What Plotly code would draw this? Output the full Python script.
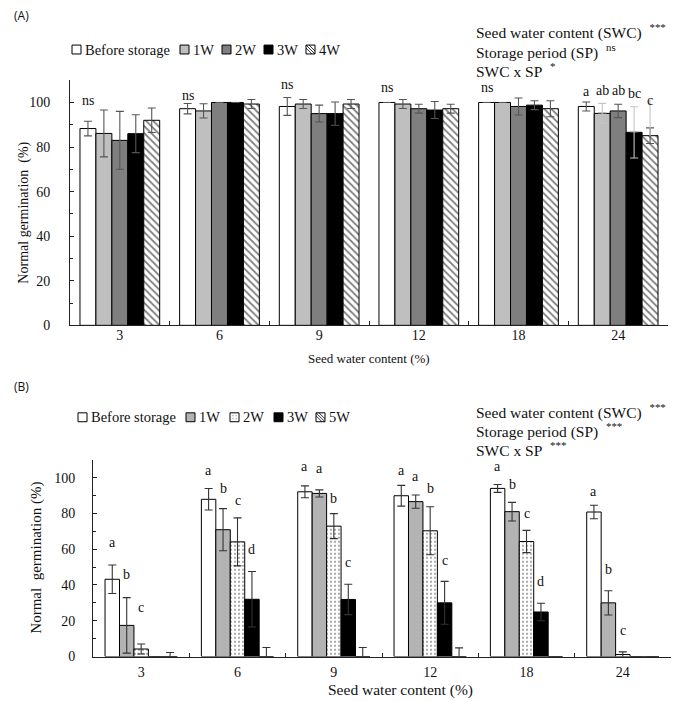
import plotly.graph_objects as go

W, H = 682, 701

# ---------------- data ----------------
categories = ["3", "6", "9", "12", "18", "24"]
y_ticks = [0, 20, 40, 60, 80, 100]

# Panel A
a_names = ["Before storage", "1W", "2W", "3W", "4W"]
a_before = [88.3, 97.2, 98.2, 100.0, 100.0, 98.2]
a_1w = [86.1, 96.2, 99.3, 99.3, 100.0, 95.1]
a_2w = [83.0, 100.0, 95.0, 97.2, 98.2, 96.2]
a_3w = [86.0, 100.0, 95.0, 96.6, 98.8, 86.6]
a_4w = [92.0, 99.3, 99.3, 97.2, 97.2, 85.1]
a_before_err = [3.3, 2.3, 4.0, None, None, 2.0]
a_1w_err = [10.5, 3.2, 2.0, 2.0, None, None]
a_2w_err = [13.0, None, 3.8, 2.0, 3.8, 3.0]
a_3w_err = [8.5, None, 5.2, 3.8, 2.0, None]
a_4w_err = [5.5, 2.0, 2.0, 2.0, 3.6, 3.5]
# light grey error/leader lines at 24 %
a_light_series = [1, 3, 4]
a_light_plus = [4.5, 11.5, 16.0]
a_light_minus = [4.5, 11.5, 0.0]

a_lab_cat = ["3", "6", "9", "12", "18", "24", "24", "24", "24", "24"]
a_lab_series = [0, 0, 0, 0, 0, 0, 1, 2, 3, 4]
a_lab_text = ["ns", "ns", "ns", "ns", "ns", "a", "ab", "ab", "bc", "c"]
a_lab_y = [101, 103, 108, 106.5, 106.5, 104.7, 105.5, 105.5, 104, 100.7]

a_stats = ["Seed water content (SWC)", "Storage period (SP)", "SWC x SP"]
a_stats_sig = ["***", "ns", "*"]

# Panel B
b_names = ["Before storage", "1W", "2W", "3W", "5W"]
b_before = [43.2, 87.9, 92.1, 89.9, 94.0, 80.8]
b_1w = [17.4, 70.9, 91.2, 86.6, 81.0, 30.0]
b_2w = [4.2, 64.1, 72.9, 70.3, 64.3, 1.1]
b_3w = [0.0, 32.0, 31.9, 30.0, 24.9, 0.0]
b_5w = [0.0, 0.0, 0.0, 0.0, 0.0, 0.0]
b_before_err = [8.0, 6.0, 3.3, 5.8, 2.2, 3.8]
b_1w_err = [15.5, 11.8, 2.0, 3.7, 5.2, 6.8]
b_2w_err = [2.8, 13.4, 7.0, 13.4, 6.2, 1.5]
b_3w_err = [None, 15.5, 8.5, 12.0, 4.9, None]
b_5w_err = [2.2, 5.0, 5.0, 4.8, None, None]

b_lab_cat = ["3", "3", "3", "6", "6", "6", "6", "9", "9", "9", "9",
             "12", "12", "12", "12", "18", "18", "18", "18", "24", "24", "24"]
b_lab_series = [0, 1, 2, 0, 1, 2, 3, 0, 1, 2, 3, 0, 1, 2, 3, 0, 1, 2, 3, 0, 1, 2]
b_lab_text = ["a", "b", "c", "a", "b", "c", "d", "a", "a", "b", "c",
              "a", "a", "b", "c", "a", "b", "c", "d", "a", "b", "c"]
b_lab_y = [63.7, 45.6, 27.5, 104, 94, 87.4, 60, 106, 105, 88.5, 52.7,
           104, 100.5, 94, 53.8, 106, 96, 79.7, 42, 92.3, 48.4, 14.8]

b_stats = ["Seed water content (SWC)", "Storage period (SP)", "SWC x SP"]
b_stats_sig = ["***", "***", "***"]

# ---------------- styles ----------------
SERIF = "Liberation Serif, Times New Roman, serif"
SANS = "Open Sans, Liberation Sans, sans-serif"
a_colors = ["white", "#bfbfbf", "#7f7f7f", "black", "white"]
a_patterns = ["", "", "", "", "\\"]
b_colors = ["white", "#b3b3b3", "white", "black", "white"]
b_patterns = ["", "", ".", "", "\\"]


def px(x):
    return x / W


def py(y):
    return 1 - y / H


# plot areas in pixels
A_L, A_R, A_T, A_B = 62, 660, 73, 321
B_L, B_R, B_T, B_B = 85, 663, 457, 656
A_GAP, B_GAP = 0.2, 0.25

fig = go.Figure()


def add_panel(series, errs, colors, patterns, gap, xa, ya, err_color):
    n = len(series)
    bw = (1 - gap) / n
    for i, (vals, ev) in enumerate(zip(series, errs)):
        fig.add_trace(go.Bar(
            x=categories, y=vals, xaxis=xa, yaxis=ya,
            width=bw, offset=-(1 - gap) / 2 + i * bw,
            marker=dict(color=colors[i], line=dict(color="black", width=1),
                        pattern=dict(shape=patterns[i], fgcolor="#333" if patterns[i] == "." else "black",
                                     bgcolor=colors[i], size=4 if patterns[i] == "." else 5,
                                     solidity=0.22 if patterns[i] == "." else 0.35)),
            error_y=dict(type="data", array=ev, visible=True, color=err_color,
                         thickness=1.1, width=4),
            showlegend=False, hoverinfo="skip"))
    return bw


a_bw = add_panel([a_before, a_1w, a_2w, a_3w, a_4w],
                 [a_before_err, a_1w_err, a_2w_err, a_3w_err, a_4w_err],
                 a_colors, a_patterns, A_GAP, "x", "y", "#555555")
# light grey leader / error lines at 24 %
a_all = [a_before, a_1w, a_2w, a_3w, a_4w]
for s, pl, mi in zip(a_light_series, a_light_plus, a_light_minus):
    vals = [None] * (len(categories) - 1) + [a_all[s][-1]]
    fig.add_trace(go.Bar(
        x=categories, y=vals, xaxis="x", yaxis="y",
        width=a_bw, offset=-(1 - A_GAP) / 2 + s * a_bw,
        marker=dict(color="rgba(0,0,0,0)", line=dict(width=0)),
        error_y=dict(type="data", symmetric=False,
                     array=[None] * (len(categories) - 1) + [pl],
                     arrayminus=[None] * (len(categories) - 1) + [mi],
                     visible=True, color="#c4c4c4", thickness=1.1,
                     width=0 if mi == 0 else 4),
        showlegend=False, hoverinfo="skip"))

b_bw = add_panel([b_before, b_1w, b_2w, b_3w, b_5w],
                 [b_before_err, b_1w_err, b_2w_err, b_3w_err, b_5w_err],
                 b_colors, b_patterns, B_GAP, "x2", "y2", "#333333")

annotations = []
shapes = []


def add_labels(cats, ser, texts, ys, gap, bw, xa, ya):
    for c, s, t, y in zip(cats, ser, texts, ys):
        xpos = categories.index(c) - (1 - gap) / 2 + (s + 0.5) * bw
        annotations.append(dict(x=xpos, y=y, xref=xa, yref=ya, text=t, showarrow=False,
                                xanchor="center", yanchor="middle",
                                font=dict(family=SERIF, size=14, color="#111")))


add_labels(a_lab_cat, a_lab_series, a_lab_text, a_lab_y, A_GAP, a_bw, "x", "y")
add_labels(b_lab_cat, b_lab_series, b_lab_text, b_lab_y, B_GAP, b_bw, "x2", "y2")


def add_text(x, y, text, size, family=SERIF, xanchor="left", angle=0):
    annotations.append(dict(x=px(x), y=py(y), xref="paper", yref="paper", text=text,
                            showarrow=False, xanchor=xanchor, yanchor="middle",
                            textangle=angle, font=dict(family=family, size=size, color="#111")))


# panel tags
add_text(4, 8, "(A)", 12, SANS)
add_text(4, 383, "(B)", 12, SANS)

# stats
for k, (t, s) in enumerate(zip(a_stats, a_stats_sig)):
    add_text(466, 24 + 19.5 * k, t + "\u00a0\u00a0<sup>" + s + "</sup>", 15.5)
for k, (t, s) in enumerate(zip(b_stats, b_stats_sig)):
    add_text(466, 408 + 19 * k, t + "\u00a0\u00a0<sup>" + s + "</sup>", 15.5)

# axis titles
add_text(16, 207, "Normal germination  (%)", 14, xanchor="center", angle=-90)
add_text(361, 355, "Seed water content (%)", 13, xanchor="center")
add_text(29, 556, "Normal  germination (%)", 15, xanchor="center", angle=-90)
add_text(392, 690, "Seed water content (%)", 15.5, xanchor="center")


# manual legends
def add_legend(names, colors, patterns, xs, y):
    s = 9
    for nm, col, pat, x in zip(names, colors, patterns, xs):
        x0, x1 = px(x), px(x + s)
        y0, y1 = py(y + s / 2), py(y - s / 2)
        shapes.append(dict(type="rect", xref="paper", yref="paper", x0=x0, x1=x1, y0=y0, y1=y1,
                           fillcolor=col, line=dict(color="black", width=1)))
        if pat == "\\":
            for d in (-3, 0, 3):
                a0, a1 = max(0, d), min(s, s + d)
                shapes.append(dict(type="line", xref="paper", yref="paper",
                                   x0=px(x + a0), y0=py(y - s / 2 + a0 - d),
                                   x1=px(x + a1), y1=py(y - s / 2 + a1 - d),
                                   line=dict(color="black", width=0.8)))
        if pat == ".":
            for dx, dy in ((3, 3), (6, 3), (3, 6), (6, 6)):
                shapes.append(dict(type="rect", xref="paper", yref="paper",
                                   x0=px(x + dx - 0.5), x1=px(x + dx + 0.5),
                                   y0=py(y - s / 2 + dy + 0.5), y1=py(y - s / 2 + dy - 0.5),
                                   fillcolor="#777", line=dict(width=0)))
        add_text(x + s + 2, y, nm, 14.5)


add_legend(a_names, a_colors, a_patterns, [64, 172, 214, 256, 298], 42)
add_legend(b_names, b_colors, b_patterns, [70, 178, 222, 266, 308], 414)

axis_common = dict(showline=True, linecolor="#222", linewidth=1, showgrid=False, zeroline=False,
                   tickfont=dict(family=SERIF, size=14, color="#111"), tickcolor="#222")

fig.update_layout(
    width=W, height=H, margin=dict(l=0, r=0, t=0, b=0),
    paper_bgcolor="white", plot_bgcolor="white", showlegend=False, barmode="overlay",
    xaxis=dict(domain=[px(A_L), px(A_R)], anchor="y", type="category",
               range=[-0.5, len(categories) - 0.5], autorange=False, tickangle=0,
               ticks="inside", tickson="boundaries", ticklen=4, ticklabelstandoff=-3, **axis_common),
    yaxis=dict(domain=[py(A_B), py(A_T)], anchor="x", range=[0, 110], autorange=False,
               tickvals=y_ticks, ticks="inside", ticklen=4, ticklabelstandoff=16,
               minor=dict(tickmode="linear", tick0=0, dtick=10, ticks="inside", ticklen=3,
                          tickcolor="#222", showgrid=False), **axis_common),
    xaxis2=dict(domain=[px(B_L), px(B_R)], anchor="y2", type="category",
                range=[-0.5, len(categories) - 0.5], autorange=False, tickangle=0,
                ticks="inside", tickson="boundaries", ticklen=4, ticklabelstandoff=3, **axis_common),
    yaxis2=dict(domain=[py(B_B), py(B_T)], anchor="x2", range=[0, 110], autorange=False,
                tickvals=y_ticks, ticks="inside", ticklen=4, ticklabelstandoff=14,
                minor=dict(tickmode="linear", tick0=0, dtick=10, ticks="inside", ticklen=3,
                           tickcolor="#222", showgrid=False), **axis_common),
    annotations=annotations, shapes=shapes,
)

fig.write_html("out.html")
